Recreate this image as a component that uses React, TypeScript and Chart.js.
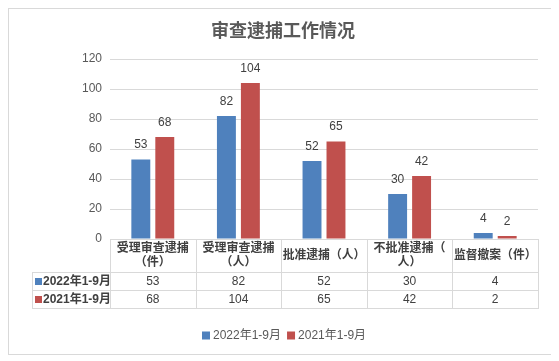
import React, { useEffect, useRef } from "react";
import { Chart, registerables } from "chart.js";

Chart.register(...registerables);

const title = "审查逮捕工作情况";
const categories: string[][] = [
  ["受理审查逮捕", "（件）"],
  ["受理审查逮捕", "（人）"],
  ["批准逮捕（人）"],
  ["不批准逮捕（", "人）"],
  ["监督撤案（件）"],
];
const series2022Label = "2022年1-9月";
const series2022 = [53, 82, 52, 30, 4];
const series2021Label = "2021年1-9月";
const series2021 = [68, 104, 65, 42, 2];
const yTicks = [0, 20, 40, 60, 80, 100, 120];

const BLUE = "#4F81BD";
const RED = "#C0504D";
const GRID = "#D9D9D9";
const TEXT = "#404040";
const AXIS_TEXT = "#595959";
const FONT = '"Liberation Sans", "Noto Sans CJK SC", sans-serif';

const tablePlugin = {
  id: "tableAndLabels",
  afterDraw(chart: any) {
    const ctx = chart.ctx as CanvasRenderingContext2D;
    const area = chart.chartArea;
    const xScale = chart.scales.x;
    const n = chart.data.labels.length;
    const colW = (area.right - area.left) / n;
    const datasets = chart.data.datasets;

    ctx.save();
    // Title
    ctx.fillStyle = AXIS_TEXT;
    ctx.font = 'bold 18px "Noto Sans CJK SC", serif';
    ctx.textAlign = "center";
    ctx.textBaseline = "middle";
    ctx.fillText(title, 274, 21);

    // Data labels
    ctx.font = `12px ${FONT}`;
    ctx.fillStyle = TEXT;
    datasets.forEach((ds: any, di: number) => {
      const meta = chart.getDatasetMeta(di);
      meta.data.forEach((el: any, i: number) => {
        ctx.fillText(String(ds.data[i]), el.x, el.y - 14.5);
      });
    });

    // Table geometry
    const headerTop = Math.round(area.bottom);
    const headerBottom = headerTop + 33;
    const row1Bottom = headerBottom + 18;
    const row2Bottom = row1Bottom + 18;
    const tableLeft = 23;
    const left = Math.round(area.left);
    const right = Math.round(area.right);

    ctx.strokeStyle = GRID;
    ctx.lineWidth = 1;
    ctx.beginPath();
    ctx.moveTo(left, headerTop + 0.5);
    ctx.lineTo(right, headerTop + 0.5);
    [headerBottom, row1Bottom, row2Bottom].forEach((y) => {
      ctx.moveTo(tableLeft, y + 0.5);
      ctx.lineTo(right + 1, y + 0.5);
    });
    ctx.moveTo(tableLeft + 0.5, headerBottom);
    ctx.lineTo(tableLeft + 0.5, row2Bottom + 1);
    for (let i = 0; i <= n; i++) {
      const x = Math.round(area.left + i * colW) + 0.5;
      ctx.moveTo(x, headerTop);
      ctx.lineTo(x, row2Bottom + 1);
    }
    ctx.stroke();

    // Header labels
    ctx.font = `bold 12px ${FONT}`;
    ctx.fillStyle = TEXT;
    const labels = chart.data.labels as string[][];
    labels.forEach((lines, i) => {
      const cx = xScale.getPixelForValue(i);
      if (lines.length === 1) {
        ctx.fillText(lines[0], cx, (headerTop + headerBottom) / 2, colW - 3);
      } else {
        ctx.fillText(lines[0], cx, headerTop + 10, colW - 3);
        ctx.fillText(lines[1], cx, headerTop + 23.5, colW - 3);
      }
    });

    // Rows
    const rowCenters = [(headerBottom + row1Bottom) / 2 + 0.5, (row1Bottom + row2Bottom) / 2 + 0.5];
    datasets.forEach((ds: any, di: number) => {
      const cy = rowCenters[di];
      ctx.fillStyle = ds.backgroundColor;
      ctx.fillRect(26, cy - 3.5, 7, 7);
      ctx.fillStyle = TEXT;
      ctx.font = `bold 12px ${FONT}`;
      ctx.textAlign = "left";
      ctx.fillText(ds.label, 34, cy);
      ctx.textAlign = "center";
      ctx.font = `12px ${FONT}`;
      ds.data.forEach((v: number, i: number) => {
        ctx.fillText(String(v), xScale.getPixelForValue(i), cy);
      });
    });

    // Legend
    ctx.font = `12px ${FONT}`;
    ctx.textAlign = "left";
    let lx = 193;
    const ly = 326.5;
    datasets.forEach((ds: any) => {
      ctx.fillStyle = ds.backgroundColor;
      ctx.fillRect(lx, ly - 4, 8, 8);
      ctx.fillStyle = AXIS_TEXT;
      ctx.fillText(ds.label, lx + 11, ly);
      lx += 11 + ctx.measureText(ds.label).width + 6;
    });
    ctx.restore();
  },
};

export default function App() {
  const ref = useRef<HTMLCanvasElement | null>(null);
  useEffect(() => {
    if (!ref.current) return;
    const chart = new Chart(ref.current, {
      type: "bar",
      data: {
        labels: categories as any,
        datasets: [
          { label: series2022Label, data: series2022, backgroundColor: BLUE },
          { label: series2021Label, data: series2021, backgroundColor: RED },
        ],
      },
      options: {
        responsive: false,
        animation: false,
        devicePixelRatio: 1,
        layout: { padding: { top: 50, bottom: 115, left: 0, right: 13 } },
        datasets: {
          bar: { categoryPercentage: 0.56, barPercentage: 0.79 },
        },
        plugins: {
          legend: { display: false },
          title: { display: false },
          tooltip: { enabled: false },
        },
        scales: {
          x: { display: false },
          y: {
            min: 0,
            max: 120,
            afterFit: (axis: any) => {
              axis.width = 101;
            },
            afterBuildTicks: (axis: any) => {
              axis.ticks = yTicks.map((v) => ({ value: v }));
            },
            border: { display: false },
            grid: { color: GRID, drawTicks: false },
            ticks: {
              padding: 8,
              color: AXIS_TEXT,
              font: { size: 12, family: FONT },
            },
          },
        },
      },
      plugins: [tablePlugin],
    });
    return () => chart.destroy();
  }, []);

  return (
    <div
      style={{
        width: 544,
        height: 347,
        boxSizing: "border-box",
        border: "1px solid #D9D9D9",
        background: "#fff",
      }}
    >
      <canvas ref={ref} width={542} height={345} style={{ display: "block", width: 542, height: 345 }} />
    </div>
  );
}
